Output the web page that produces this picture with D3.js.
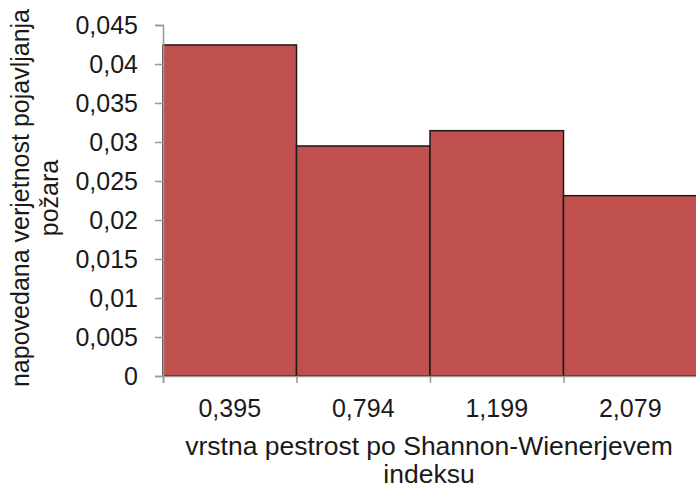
<!DOCTYPE html>
<html>
<head>
<meta charset="utf-8">
<script src="https://cdn.jsdelivr.net/npm/d3@7"></script>
<style>
  html, body { margin: 0; padding: 0; background: #fff; }
  svg { display: block; }
  text { font-family: "Liberation Sans", Arial, sans-serif; fill: #1a1a1a; }
</style>
</head>
<body>
<svg id="chart" width="696" height="488"></svg>
<script>
const categories = ["0,395", "0,794", "1,199", "2,079"];
const values = [0.04244, 0.02949, 0.03145, 0.02312];
const yTicks = [0, 0.005, 0.01, 0.015, 0.02, 0.025, 0.03, 0.035, 0.04, 0.045];
const yTitleLines = ["napovedana verjetnost pojavljanja", "požara"];
const xTitleLines = ["vrstna pestrost po Shannon-Wienerjevem", "indeksu"];

(function () {
const svg = d3.select("#chart");
const plotL = 163, plotR = 697, plotT = 25, plotB = 376;

const x = d3.scaleLinear().domain([0, categories.length]).range([plotL, plotR]);
const y = d3.scaleLinear().domain([0, 0.045]).range([plotB, plotT]);
const fmt = v => (v === 0 ? "0" : String(+v.toFixed(3))).replace(".", ",");

// bars
svg.append("g").selectAll("rect").data(values).join("rect")
  .attr("x", (d, i) => x(i))
  .attr("y", d => y(d))
  .attr("width", x(1) - x(0))
  .attr("height", d => y(0) - y(d))
  .attr("fill", "#C0504D")
  .attr("stroke", "#1a1a1a")
  .attr("stroke-width", 1.5);

// y axis
const yAxis = d3.axisLeft(y).tickValues(yTicks).tickSize(8).tickPadding(17).tickFormat(fmt);
const gy = svg.append("g").attr("transform", `translate(${plotL},0)`).call(yAxis);
gy.select(".domain").attr("stroke", "#999").attr("stroke-width", 1.5);
gy.selectAll(".tick line").attr("stroke", "#999").attr("stroke-width", 1.5);
gy.selectAll(".tick text").style("font-size", "25px").attr("fill", "#1a1a1a")
  .style("font-family", "'Liberation Sans', Arial, sans-serif");

// x axis (boundary ticks)
const xAxis = d3.axisBottom(x).tickValues(d3.range(categories.length + 1)).tickSize(7).tickFormat("");
const gx = svg.append("g").attr("transform", `translate(0,${plotB})`).call(xAxis);
gx.select(".domain").attr("stroke", "#999").attr("stroke-width", 1.5);
gx.selectAll(".tick line").attr("stroke", "#999").attr("stroke-width", 1.5);

// category labels
svg.append("g").selectAll("text").data(categories).join("text")
  .attr("x", (d, i) => x(i + 0.5))
  .attr("y", 417)
  .attr("text-anchor", "middle")
  .style("font-size", "25px")
  .text(d => d);

// x title
svg.append("g").selectAll("text").data(xTitleLines).join("text")
  .attr("x", 429)
  .attr("y", (d, i) => 455 + i * 28)
  .attr("text-anchor", "middle")
  .style("font-size", "26.5px")
  .text(d => d);

// y title
svg.append("g").selectAll("text").data(yTitleLines).join("text")
  .attr("transform", (d, i) => `translate(${29 + i * 29},198) rotate(-90)`)
  .attr("text-anchor", "middle")
  .style("font-size", "25px")
  .text(d => d);
})();
</script>
</body>
</html>
